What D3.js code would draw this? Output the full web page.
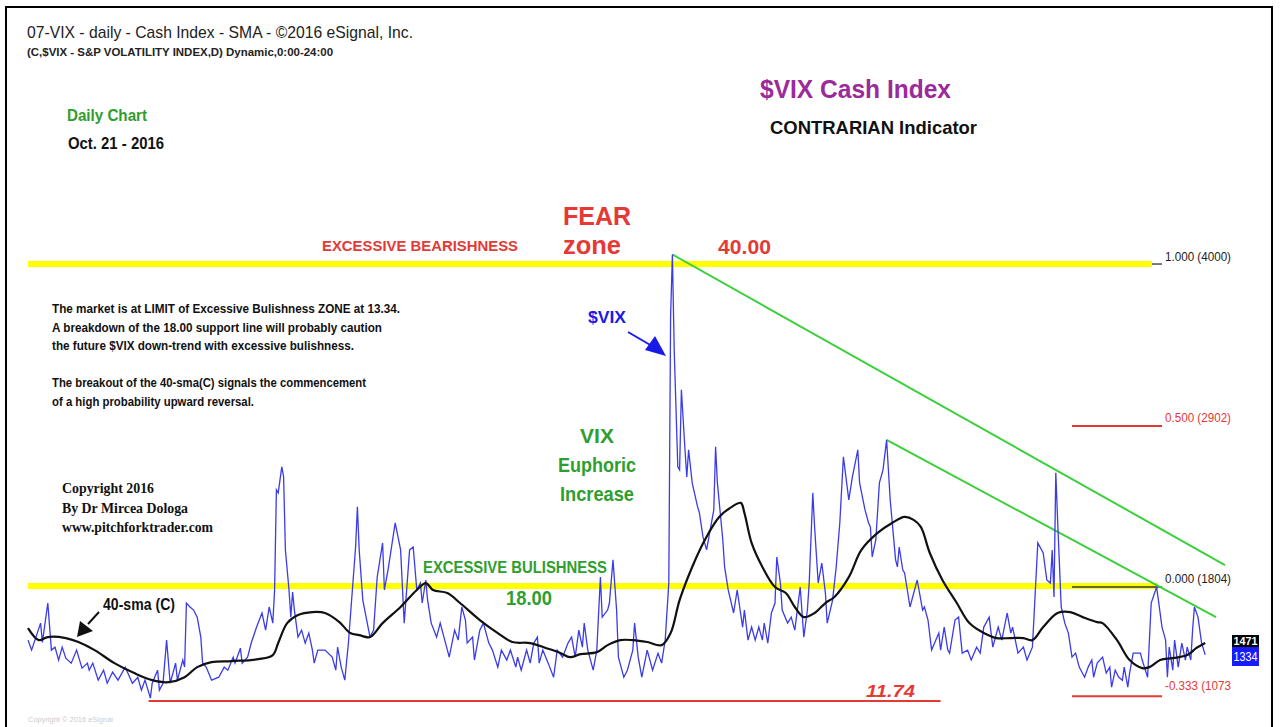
<!DOCTYPE html>
<html><head><meta charset="utf-8">
<script src="https://cdn.jsdelivr.net/npm/d3@7"></script>
<style>body{margin:0;background:#fff}svg{display:block}</style>
</head><body><svg id="c" width="1281" height="727"></svg>
<script>
// ---- DATA (trading-day index from chart start, closing value) ----
const vixDay = [0,2,7,8,11,13,15,17,19,21,24,27,30,33,34,36,39,42,44,47,50,54,58,61,63,65,68,69,72,73,75,77,79,82,83,86,87,88,90,92,94,96,97,99,102,106,109,111,114,115,118,119,122,124,127,130,132,134,136,137,138,139,141,142,143,145,146,147,148,150,152,154,156,158,159,161,165,169,171,172,174,176,178,182,183,184,186,190,192,194,197,198,200,204,207,209,212,214,216,218,219,221,222,224,227,229,233,234,237,239,241,243,244,247,248,251,253,256,258,261,263,266,268,271,272,274,277,279,281,283,284,286,289,292,294,297,300,302,304,306,308,309,311,314,316,318,319,322,323,325,327,328,331,333,336,337,339,341,344,347,350,352,354,356,357,358,359,361,362,363,365,366,367,369,372,373,375,377,379,381,382,383,386,387,389,392,394,397,398,400,402,404,406,408,409,411,413,415,416,418,419,422,424,426,429,431,433,434,436,437,439,441,443,444,447,449,451,453,456,458,461,462,465,467,468,469,471,473,475,477,479,480,482,483,484,486,487,490,494,497,498,500,502,506,507,509,511,512,515,517,519,522,524,527,529,531,534,536,539,541,544,546,547,550,553,555,558,559,561,564,566,568,569,570,571,572,574,576,578,580,582,584,587,589,591,592,594,597,599,601,602,604,606,608,609,611,612,614,618,619,622,624,627,628,630,632,633,634,636,637,639,641,643,644,646,647,648,650,652,654];
const vixClose = [14.35,13.67,15.51,14.2,16.88,13.67,13.87,12.99,13.87,13.12,12.78,13.67,12.44,12.78,12.3,12.78,11.62,12.3,11.41,12.17,11.62,12.51,11.41,11.82,10.94,11.62,10.39,11.41,12.3,10.94,11.41,14.35,11.41,12.78,11.62,12.99,12.51,16.88,16.61,16.4,15.92,14.56,12.78,12.51,11.62,11.82,12.51,12.3,13.19,12.78,13.8,12.78,13.19,14.15,15.24,16.2,15.03,16.61,15.51,17.77,24.6,24.4,26.17,25.5,20.5,17.77,15.92,17.63,16.4,14.56,15.03,14.15,14.83,13.67,12.78,13.67,13.67,13.19,12.3,13.87,12.51,11.62,14.15,20.7,23.44,20.5,17.08,14.56,15.03,18.65,20.98,17.77,19.13,22.34,20.5,15.51,20.5,20.7,17.77,18.24,16.88,18.45,17.08,15.51,14.56,15.51,13.67,13.19,15.03,14.35,16.61,15.72,14.15,14.56,12.99,15.03,15.51,14.15,13.67,12.51,13.67,12.99,13.67,12.51,13.19,12.3,13.67,12.78,14.15,14.56,12.78,13.67,12.78,11.82,13.67,13.19,14.15,14.56,13.19,15.03,13.87,15.51,13.67,12.3,13.67,18.65,15.92,16.4,16.88,19.82,16.4,13.19,11.82,12.3,13.67,15.51,13.19,11.82,13.67,12.3,13.46,12.78,14.35,18.24,36.41,40.65,34.16,26.17,25.96,31.43,27.33,25.48,27.33,25.07,23.44,23.03,21.39,20.5,21.87,23.23,27.53,25.07,21.18,19.34,17.77,16.2,17.77,15.24,16.4,14.35,15.24,14.35,15.24,14.35,15.51,14.15,16.2,16.88,20.02,18.24,16.4,15.51,15.92,15.03,17.97,14.56,16.4,18.24,24.39,22.07,18.24,19.61,17.56,15.51,17.08,19.34,22.34,26.85,23.91,25.48,27.33,25.07,23.23,22.34,22.07,20.02,21.18,25.07,25.96,28.01,23.91,22.55,19.82,19.34,20.7,19.13,18.93,16.61,18.45,16.4,16.61,15.72,13.67,14.83,13.67,15.24,13.67,13.46,15.72,15.92,13.46,13.67,12.99,13.87,13.46,15.24,15.92,13.87,15.24,14.35,16.2,14.83,15.24,13.46,13.87,12.99,13.87,16.2,20.98,20.29,18.45,18.24,20.5,17.29,25.76,22.55,16.61,15.51,14.83,13.19,13.46,12.51,11.82,12.51,12.99,11.82,12.78,13.19,12.1,12.51,11.14,12.3,11.82,11.62,12.51,11.14,12.1,13.46,13.46,12.99,11.82,16.88,17.97,17.08,15.24,14.35,11.82,13.87,12.3,14.35,12.51,14.15,12.99,13.87,12.99,15.03,16.61,15.92,14.15,13.34];
const smaDay = [0,6,11,21,28,37,48,59,69,78,87,94,102,113,128,136,139,144,150,158,165,173,179,184,190,197,207,216,221,225,233,240,251,261,269,279,288,296,301,307,316,322,329,336,344,352,357,362,369,376,384,391,396,398,402,408,415,421,426,431,437,443,448,456,463,472,480,487,492,496,501,508,516,523,531,538,546,553,558,564,572,579,586,594,597,605,612,619,623,629,636,644,649,654];
const smaValue = [15.17,14.35,14.56,14.49,14.22,13.67,12.78,12.1,11.62,11.48,11.82,12.51,12.85,12.92,13.05,13.33,14.15,15.51,16.06,16.26,16.2,15.58,14.83,14.69,14.56,15.51,16.61,17.77,18.24,17.77,17.56,16.88,15.72,14.83,14.22,14.15,13.8,13.46,13.19,13.39,13.53,14.01,14.35,14.35,14.22,14.01,14.83,17.08,19.34,21.18,22.75,23.44,23.71,23.03,20.98,19.34,17.97,17.56,16.61,15.92,16.2,16.88,17.29,18.65,20.5,21.66,22.34,22.75,22.55,22.07,20.29,18.45,16.88,15.51,14.83,14.49,14.49,14.49,14.35,15.24,16.2,16.26,15.92,15.58,15.51,14.35,12.99,12.44,12.51,12.99,13.12,13.33,13.8,14.15];
const zoneLabels = ["40.00", "18.00"];
const zoneValues = [40.00, 18.04];
const fibLabels = ["1.000 (4000)", "0.500 (2902)", "0.000 (1804)", "-0.333 (1073"];
const fibValues = [40.00, 29.02, 18.04, 10.73];
const trendStartDay = [358, 477];
const trendStartValue = [40.65, 28.01];
const trendEndDay = [665, 660];
const trendEndValue = [19.47, 15.92];
const supportDays = [67, 507];
const supportValue = 10.19;
const supportLabel = "11.74";
const lastSma = "1471", lastClose = "1334";

// ---- CHART ----
const svg = d3.select("#c");
const x = d3.scaleLinear().domain([0, 660]).range([28, 1216]);
const y = d3.scaleLinear().domain([10, 42]).range([703.9, 234.7]);

svg.append("rect").attr("x", 6).attr("y", 7).attr("width", 1266).attr("height", 730)
  .attr("fill", "none").attr("stroke", "#000").attr("stroke-width", 2);

function txt(px, py, s, o) {
  o = o || {};
  const t = svg.append("text").attr("x", px).attr("y", py).text(s)
    .attr("font-family", o.family || "'Liberation Sans', Arial, sans-serif")
    .attr("font-size", o.size || 12)
    .attr("font-weight", o.weight || "bold")
    .attr("fill", o.color || "#111")
    .attr("text-anchor", o.anchor || "start");
  if (o.italic) t.attr("font-style", "italic");
  if (o.len) t.attr("textLength", o.len).attr("lengthAdjust", "spacingAndGlyphs");
  return t;
}

// zone lines (yellow)
svg.selectAll("line.zone").data(zoneValues).join("line").attr("class", "zone")
  .attr("x1", x(0)).attr("x2", (d, i) => i === 0 ? 1152 : 1158)
  .attr("y1", d => y(d)).attr("y2", d => y(d))
  .attr("stroke", "#ffff00").attr("stroke-width", 6);

// fib short lines
const fibColor = ["#222", "#e53935", "#6b6b1f", "#e53935"];
svg.selectAll("line.fib").data(fibValues).join("line").attr("class", "fib")
  .attr("x1", (d, i) => i === 0 ? 1152 : 1072).attr("x2", 1162)
  .attr("y1", (d, i) => y(d) + (i === 0 ? 0 : i === 3 ? 3 : 1)).attr("y2", (d, i) => y(d) + (i === 0 ? 0 : i === 3 ? 3 : 1))
  .attr("stroke", (d, i) => fibColor[i]).attr("stroke-width", (d, i) => i === 0 ? 1.2 : 2);
fibLabels.forEach((l, i) => {
  txt(1165, y(fibValues[i]) - 3, l, {size: 12, weight: "normal", color: i % 2 ? "#e53935" : "#222",
    family: "'Liberation Sans Narrow','Arial Narrow',sans-serif", len: 66});
});

// support line
svg.append("line").attr("x1", x(supportDays[0])).attr("x2", x(supportDays[1]))
  .attr("y1", y(supportValue)).attr("y2", y(supportValue))
  .attr("stroke", "#e53935").attr("stroke-width", 2);
txt(866, 697, supportLabel, {size: 17, color: "#e53935", italic: true, len: 49});

// trend lines
svg.selectAll("line.trend").data(trendStartDay).join("line").attr("class", "trend")
  .attr("x1", (d) => x(d)).attr("y1", (d, i) => y(trendStartValue[i]))
  .attr("x2", (d, i) => x(trendEndDay[i])).attr("y2", (d, i) => y(trendEndValue[i]))
  .attr("stroke", "#3ccf3c").attr("stroke-width", 2);

// VIX line
const vix = vixDay.map((d, i) => [d, vixClose[i]]);
svg.append("path").datum(vix)
  .attr("d", d3.line().x(d => x(d[0])).y(d => y(d[1])))
  .attr("fill", "none").attr("stroke", "#3b3be8").attr("stroke-width", 1.3);

// SMA
const sma = smaDay.map((d, i) => [d, smaValue[i]]);
svg.append("path").datum(sma)
  .attr("d", d3.line().curve(d3.curveCatmullRom).x(d => x(d[0])).y(d => y(d[1])))
  .attr("fill", "none").attr("stroke", "#111").attr("stroke-width", 2.2);

// last-value boxes
svg.append("rect").attr("x", 1232).attr("y", 635).attr("width", 27).attr("height", 12).attr("fill", "#000");
svg.append("rect").attr("x", 1232).attr("y", 647).attr("width", 27).attr("height", 19).attr("fill", "#1a1aff");
txt(1245.5, 645, lastSma, {size: 11, color: "#fff", anchor: "middle", len: 24});
txt(1245.5, 661, lastClose, {size: 12, weight: "normal", color: "#fff", anchor: "middle", len: 24});

// header texts
txt(27, 38, "07-VIX - daily - Cash Index - SMA - ©2016 eSignal, Inc.", {size: 17, weight: "normal", color: "#222", len: 386});
txt(27, 56, "(C,$VIX - S&P VOLATILITY INDEX,D) Dynamic,0:00-24:00", {size: 11, color: "#222", len: 306});
txt(67, 121, "Daily Chart", {size: 16, color: "#2e9e2e", len: 80});
txt(68, 149, "Oct. 21 - 2016", {size: 16, color: "#111", len: 96});
txt(760, 98, "$VIX Cash Index", {size: 26, color: "#9b2a9b", len: 191});
txt(770, 134, "CONTRARIAN Indicator", {size: 19, color: "#111", len: 207});

txt(563, 225, "FEAR", {size: 26, color: "#e53935", len: 68});
txt(563, 254, "zone", {size: 26, color: "#e53935", len: 58});
txt(322, 251, "EXCESSIVE BEARISHNESS", {size: 15, color: "#e53935", len: 196});
txt(718, 254, zoneLabels[0], {size: 20, color: "#e53935", len: 53});

txt(423, 573, "EXCESSIVE BULISHNESS", {size: 16, color: "#2e9e2e", len: 184});
txt(506, 605, zoneLabels[1], {size: 21, color: "#2e9e2e", len: 46});

txt(597, 443, "VIX", {size: 21, color: "#2e9e2e", anchor: "middle"});
txt(597, 472, "Euphoric", {size: 21, color: "#2e9e2e", anchor: "middle", len: 78});
txt(597, 501, "Increase", {size: 21, color: "#2e9e2e", anchor: "middle", len: 74});

// $VIX label and arrow
txt(588, 323, "$VIX", {size: 17, color: "#1a1ae6", len: 38});
svg.append("line").attr("x1", 628).attr("y1", 332).attr("x2", 652).attr("y2", 346)
  .attr("stroke", "#1a1ae6").attr("stroke-width", 2);
svg.append("path").attr("d", "M666,356 L645,350 L655,336 Z").attr("fill", "#1a1ae6");

// 40-sma label and arrow
txt(103, 610, "40-sma (C)", {size: 16, color: "#111", len: 72});
svg.append("line").attr("x1", 99).attr("y1", 612).attr("x2", 88).attr("y2", 624)
  .attr("stroke", "#111").attr("stroke-width", 2);
svg.append("path").attr("d", "M77,637 L80,621 L93,631 Z").attr("fill", "#111");

// paragraph
const para = ["The market is at LIMIT of Excessive Bulishness ZONE at 13.34.",
  "A breakdown of the 18.00 support line will  probably caution",
  "the future $VIX down-trend with excessive bulishness.",
  "",
  "The breakout of the 40-sma(C) signals the commencement",
  "of a high probability upward reversal."];
const paraLen = [348, 330, 302, 0, 314, 202];
const paraY = [313, 332, 350, 0, 387, 406];
para.forEach((p, i) => { if (p) txt(52, paraY[i], p, {size: 12.5, color: "#111", len: paraLen[i]}); });

// copyright block
const copy = ["Copyright 2016", "By Dr Mircea Dologa", "www.pitchforktrader.com"];
const copyLen = [92, 126, 151];
copy.forEach((c, i) => txt(62, 493 + i * 19.5, c, {size: 14, color: "#111",
  family: "'Liberation Serif','Times New Roman',serif", len: copyLen[i]}));

txt(28, 722, "Copyright © 2016 eSignal", {size: 8, weight: "normal", color: "#ccc", len: 85});
</script></body></html>
